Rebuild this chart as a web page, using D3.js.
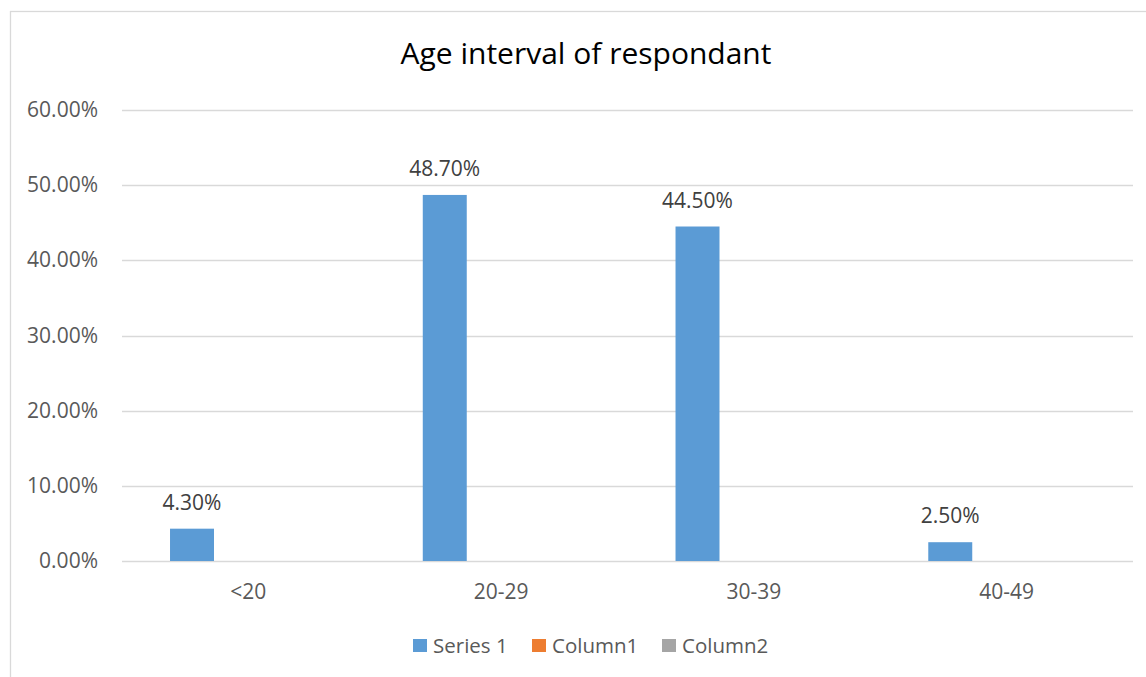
<!DOCTYPE html>
<html>
<head>
<meta charset="utf-8">
<script src="https://cdn.jsdelivr.net/npm/d3@7"></script>
<style>
  html, body { margin: 0; padding: 0; background: #ffffff; }
  svg { display: block; font-family: "Open Sans", sans-serif; }
</style>
</head>
<body>
<svg id="chart" width="1146" height="677"></svg>
<script>
const title = "Age interval of respondant";
const categories = ["<20", "20-29", "30-39", "40-49"];
const seriesNames = ["Series 1", "Column1", "Column2"];
const series1 = [0.043, 0.487, 0.445, 0.025];
const column1 = [null, null, null, null];
const column2 = [null, null, null, null];
const yTicks = [0, 0.1, 0.2, 0.3, 0.4, 0.5, 0.6];
const colors = ["#5B9BD5", "#ED7D31", "#A5A5A5"];

const seriesValues = [series1, column1, column2];

const svg = d3.select("#chart");
const W = 1146, H = 677;

// chart border
svg.append("rect")
  .attr("x", 10.5).attr("y", 11.5)
  .attr("width", W + 20).attr("height", H + 20)
  .attr("fill", "#fff").attr("stroke", "#D9D9D9").attr("stroke-width", 1.3);

const plot = { left: 122, right: 1133, top: 110, bottom: 561 };

const y = d3.scaleLinear().domain([0, 0.6]).range([plot.bottom, plot.top]);
const x0 = d3.scaleBand().domain(categories).range([plot.left, plot.right]).paddingInner(0).paddingOuter(0);
const bw = x0.bandwidth();
const x1 = d3.scaleBand().domain(seriesNames)
  .range([0.19 * bw, 0.19 * bw + 3 * 0.174 * bw]).paddingInner(0);

// gridlines
svg.append("g").selectAll("line").data(yTicks).join("line")
  .attr("x1", plot.left).attr("x2", plot.right)
  .attr("y1", d => Math.round(y(d)) + 0.5).attr("y2", d => Math.round(y(d)) + 0.5)
  .attr("stroke", "#D9D9D9").attr("stroke-width", 1.3);

// y tick labels
svg.append("g").selectAll("text").data(yTicks).join("text")
  .attr("x", 98).attr("y", d => y(d) + 7)
  .attr("text-anchor", "end")
  .attr("font-size", 21).attr("fill", "#595959")
  .text(d => d3.format(".2%")(d));

// x labels
svg.append("g").selectAll("text").data(categories).join("text")
  .attr("x", d => x0(d) + bw / 2).attr("y", 599)
  .attr("text-anchor", "middle")
  .attr("font-size", 21).attr("fill", "#595959")
  .text(d => d);

// bars
seriesNames.forEach((s, si) => {
  const vals = seriesValues[si];
  const data = categories.map((c, i) => ({ c, v: vals[i] })).filter(d => d.v != null);
  const g = svg.append("g");
  g.selectAll("rect").data(data).join("rect")
    .attr("x", d => x0(d.c) + x1(s))
    .attr("width", x1.bandwidth())
    .attr("y", d => y(d.v))
    .attr("height", d => y(0) - y(d.v))
    .attr("fill", colors[si]);
  g.selectAll("text").data(data).join("text")
    .attr("x", d => x0(d.c) + x1(s) + x1.bandwidth() / 2)
    .attr("y", d => y(d.v) - 19)
    .attr("text-anchor", "middle")
    .attr("font-size", 21).attr("fill", "#404040")
    .text(d => d3.format(".2%")(d.v));
});

// title
svg.append("text")
  .attr("x", 586).attr("y", 64)
  .attr("text-anchor", "middle")
  .attr("font-size", 30).attr("fill", "#000000")
  .text(title);

// legend
const legendX = [413, 532, 662];
const lg = svg.append("g");
seriesNames.forEach((s, i) => {
  lg.append("rect").attr("x", legendX[i]).attr("y", 639).attr("width", 14).attr("height", 13).attr("fill", colors[i]);
  lg.append("text").attr("x", legendX[i] + 20).attr("y", 653)
    .attr("font-size", 20.5).attr("fill", "#595959").text(s);
});
</script>
</body>
</html>
